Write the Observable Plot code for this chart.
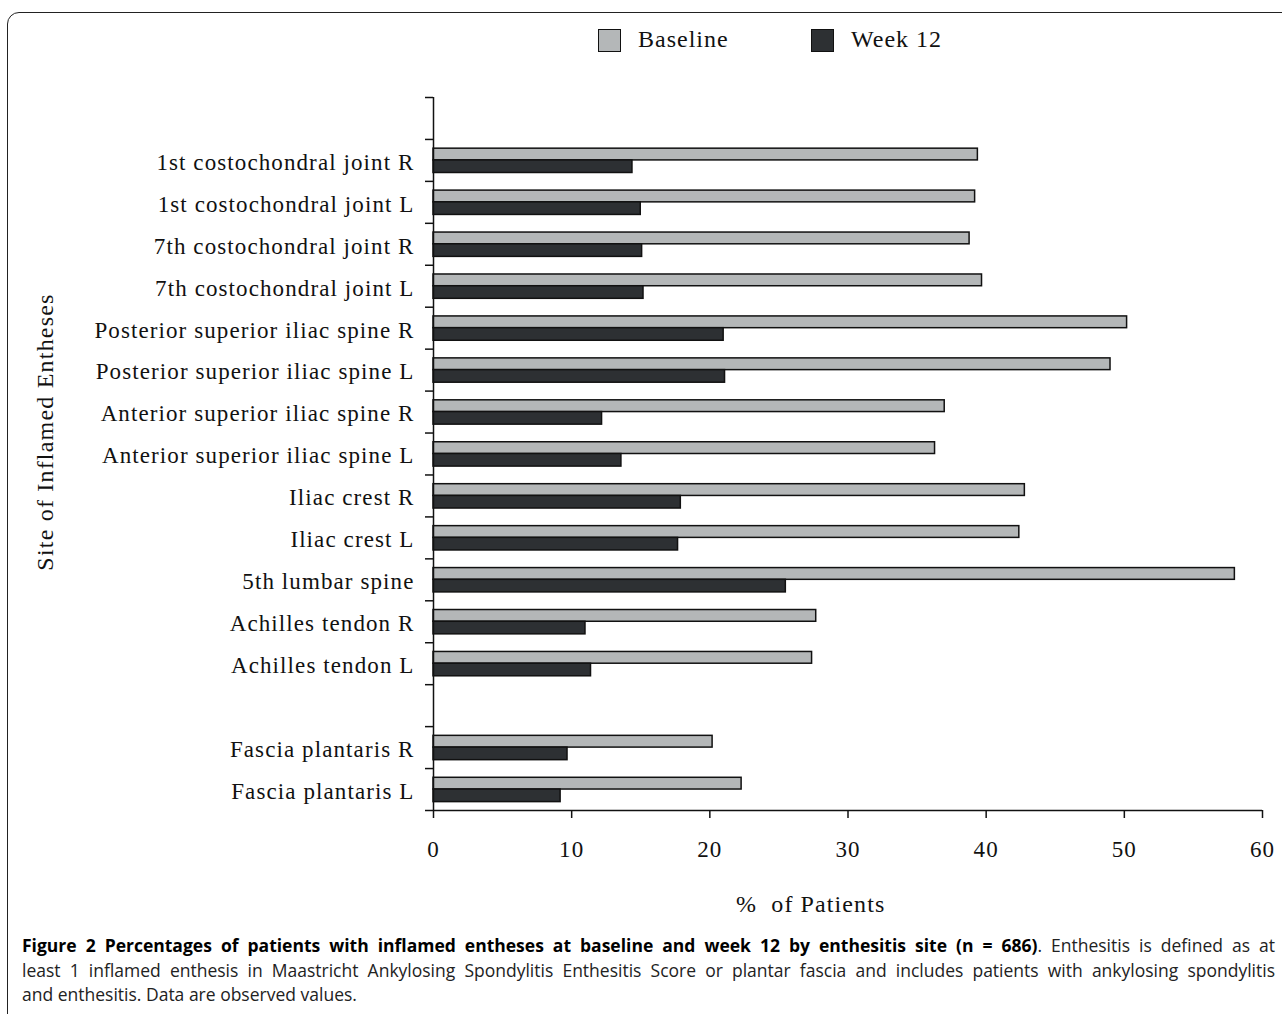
<!DOCTYPE html>
<html>
<head>
<meta charset="utf-8">
<script src="https://cdn.jsdelivr.net/npm/d3@7"></script>
<script src="https://cdn.jsdelivr.net/npm/@observablehq/plot@0.6"></script>
<style>
html, body { margin: 0; padding: 0; background: #fff; overflow: hidden; width: 1282px; height: 1014px; }
#frame { position: absolute; left: 7px; top: 12px; width: 1320px; height: 1020px; border: 1.5px solid #222; border-radius: 12px; box-sizing: border-box; }
#chart { position: absolute; left: 0; top: 0; }
#chart svg text { letter-spacing: 1.1px; }
.serif { font-family: "Liberation Serif", "Times New Roman", serif; color: #111; position: absolute; white-space: pre; }
.sw { position: absolute; width: 23px; height: 23px; box-sizing: border-box; border: 1.5px solid #111; }
#caption { position: absolute; left: 22px; top: 933px; width: 1253px; font-family: "Open Sans", sans-serif; font-size: 16px; line-height: 24.5px; color: #222; }
#caption .ln { white-space: nowrap; text-align: left; }
#caption.just .ln { text-align: justify; text-align-last: justify; }
#caption.just .last { text-align-last: left; }
#caption b { color: #000; }
</style>
</head>
<body>
<div id="frame"></div>
<div id="chart"></div>
<div id="legend"></div>
<div id="ytitle" class="serif"></div>
<div id="xtitle" class="serif"></div>
<div id="caption"></div>
<script>
// ---- data ----
const sites = [
  "",
  "1st costochondral joint R",
  "1st costochondral joint L",
  "7th costochondral joint R",
  "7th costochondral joint L",
  "Posterior superior iliac spine R",
  "Posterior superior iliac spine L",
  "Anterior superior iliac spine R",
  "Anterior superior iliac spine L",
  "Iliac crest R",
  "Iliac crest L",
  "5th lumbar spine",
  "Achilles tendon R",
  "Achilles tendon L",
  "",
  "Fascia plantaris R",
  "Fascia plantaris L"
];
const baseline = [null, 39.4, 39.2, 38.8, 39.7, 50.2, 49.0, 37.0, 36.3, 42.8, 42.4, 58.0, 27.7, 27.4, null, 20.2, 22.3];
const week12   = [null, 14.4, 15.0, 15.1, 15.2, 21.0, 21.1, 12.2, 13.6, 17.9, 17.7, 25.5, 11.0, 11.4, null, 9.7, 9.2];
const xTicks = [0, 10, 20, 30, 40, 50, 60];
const seriesNames = ["Baseline", "Week 12"];
const xTitle = "%  of Patients";
const yTitle = "Site of Inflamed Entheses";

const colBase = "#b4b7b8";
const colWeek = "#2d3033";
const serif = "'Liberation Serif', 'Times New Roman', serif";

const rows = sites.map((s, i) => ({site: s, i, baseline: baseline[i], week12: week12[i]})).filter(d => d.site !== "");
const yBounds = d3.range(0, sites.length + 1);

const chart = Plot.plot({
  width: 1282,
  height: 930,
  marginLeft: 433,
  marginRight: 20,
  marginTop: 97,
  marginBottom: 120,
  style: {fontFamily: serif, background: "transparent", overflow: "visible"},
  x: {domain: [0, 60]},
  y: {domain: [0, sites.length], reverse: true},
  marks: [
    Plot.rect(rows, {x1: 0, x2: "baseline", y1: d => d.i + 0.22, y2: d => d.i + 0.5, fill: colBase, stroke: "#111", strokeWidth: 1.5}),
    Plot.rect(rows, {x1: 0, x2: "week12", y1: d => d.i + 0.5, y2: d => d.i + 0.8, fill: colWeek, stroke: "#111", strokeWidth: 1.5}),
    Plot.ruleX([0], {stroke: "#111", strokeWidth: 1.5}),
    Plot.ruleY([sites.length], {stroke: "#111", strokeWidth: 1.5}),
    Plot.axisY({ticks: yBounds, tickSize: 8, tickFormat: () => "", label: null, stroke: "#111", strokeWidth: 1.5}),
    Plot.axisX({ticks: xTicks, tickSize: 8, tickPadding: 22, label: null, fontSize: 23, fill: "#111", stroke: "#111", strokeWidth: 1.5}),
    Plot.text(rows, {y: d => d.i + 0.5, text: "site", frameAnchor: "left", textAnchor: "end", dx: -19, dy: 2, fontSize: 23, fill: "#111"})
  ]
});
document.getElementById("chart").appendChild(chart);

// legend
const legend = document.getElementById("legend");
const legendItems = [
  {name: seriesNames[0], color: colBase, sx: 598, tx: 638},
  {name: seriesNames[1], color: colWeek, sx: 811, tx: 851}
];
for (const it of legendItems) {
  const sw = document.createElement("div");
  sw.className = "sw";
  sw.style.left = it.sx + "px"; sw.style.top = "29px"; sw.style.background = it.color;
  legend.appendChild(sw);
  const t = document.createElement("div");
  t.className = "serif";
  t.textContent = it.name;
  Object.assign(t.style, {left: it.tx + "px", top: "24px", fontSize: "24px", lineHeight: "30px", letterSpacing: "1px"});
  legend.appendChild(t);
}

// axis titles
const yt = document.getElementById("ytitle");
yt.textContent = yTitle;
Object.assign(yt.style, {left: "45px", top: "432px", width: "400px", height: "30px", lineHeight: "30px", textAlign: "center",
  fontSize: "24px", letterSpacing: "1.2px", transform: "translate(-50%,-50%) rotate(-90deg)"});
const xt = document.getElementById("xtitle");
xt.textContent = xTitle;
Object.assign(xt.style, {left: "736px", top: "889px", height: "30px", lineHeight: "30px", fontSize: "24px", letterSpacing: "1.1px"});

// caption
const captionLines = [
  "<b>Figure 2 Percentages of patients with inflamed entheses at baseline and week 12 by enthesitis site (n = 686)</b>. Enthesitis is defined as at",
  "least 1 inflamed enthesis in Maastricht Ankylosing Spondylitis Enthesitis Score or plantar fascia and includes patients with ankylosing spondylitis",
  "and enthesitis. Data are observed values."
];
const cap = document.getElementById("caption");
const capW = 1253;
const lineEls = captionLines.map((l, k) => {
  const d = document.createElement("div");
  d.className = "ln" + (k === captionLines.length - 1 ? " last" : "");
  const s = document.createElement("span");
  s.innerHTML = l;
  d.appendChild(s);
  cap.appendChild(d);
  return {d, s};
});
// fit font (measured unjustified) so the regular second line has natural spacing
const w2 = lineEls[1].s.getBoundingClientRect().width;
const fs = Math.min(17.5, 16 * capW / w2 * 0.99);
cap.style.fontSize = fs + "px";
for (let k = 0; k < lineEls.length - 1; k++) {
  const w = lineEls[k].s.getBoundingClientRect().width;
  if (w > capW) {
    const n = lineEls[k].s.textContent.length;
    lineEls[k].d.style.letterSpacing = (-(w - capW + 2) / n) + "px";
  }
}
cap.classList.add("just");
</script>
</body>
</html>
